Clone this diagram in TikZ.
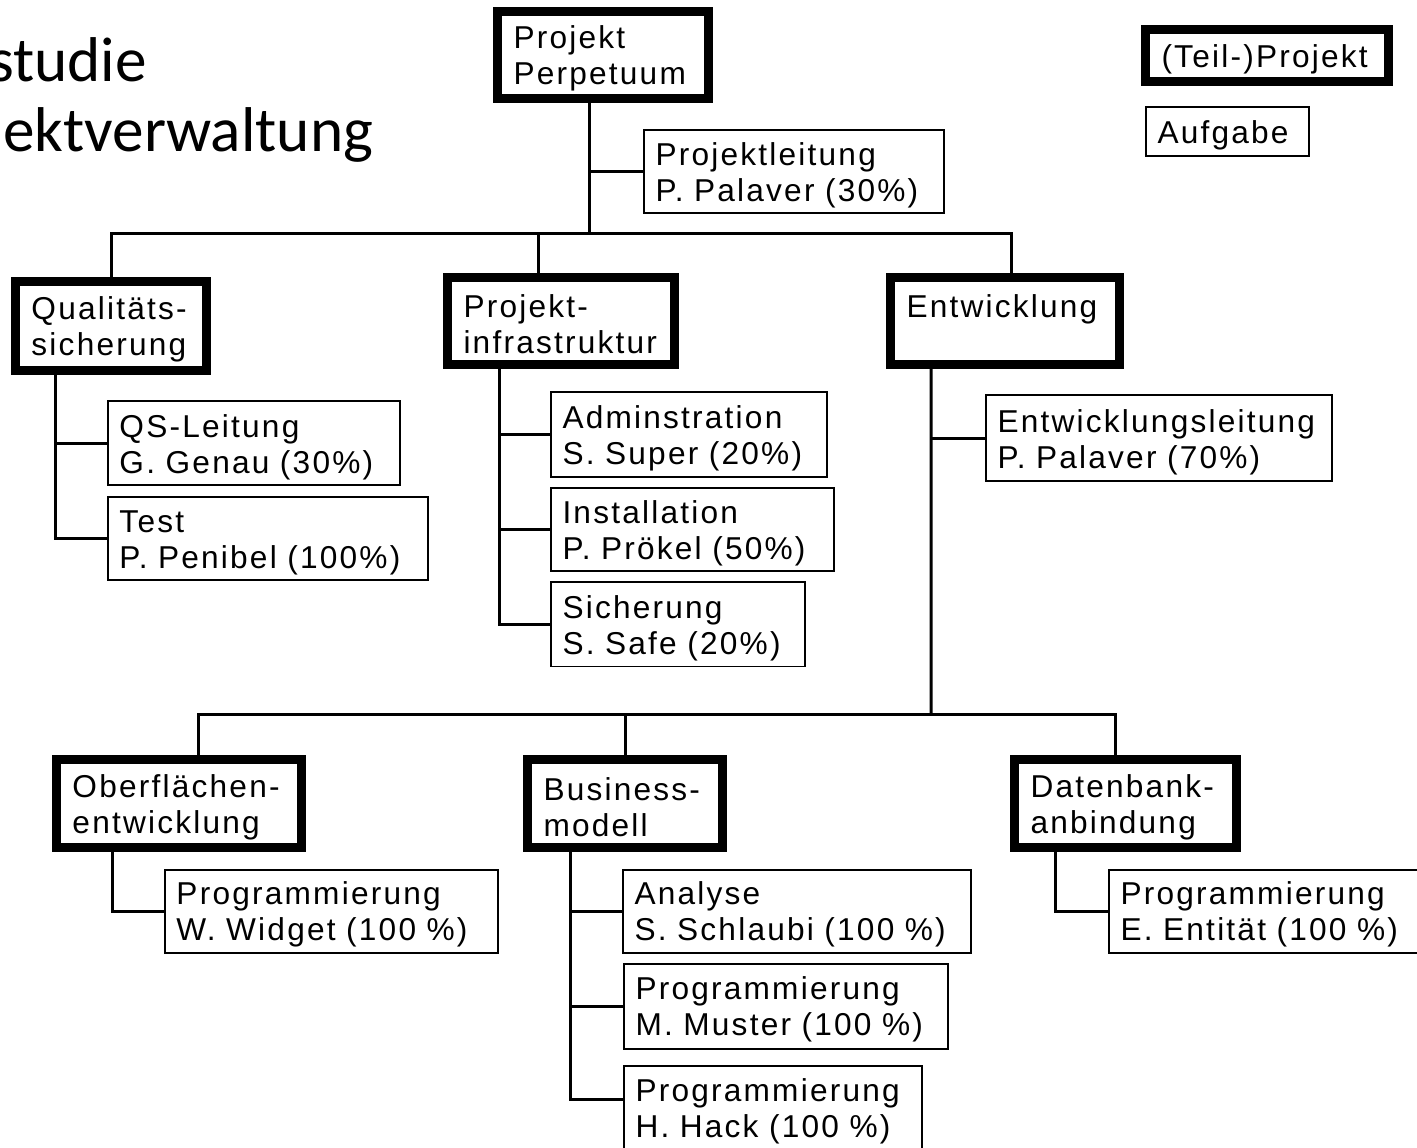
\documentclass[tikz,border=0pt]{standalone}
\usepackage{fontspec}
\setmainfont{Liberation Sans}
\newfontfamily\boxfontfam[LetterSpace=7]{Liberation Sans}
\newfontfamily\titlefontfam{Carlito}
\newcommand{\boxfont}{\boxfontfam\fontsize{18pt}{20.5pt}\selectfont\hyphenpenalty=10000\relax}
\newcommand{\titlefont}{\titlefontfam\fontsize{36pt}{40pt}\selectfont}
\usetikzlibrary{positioning,calc}
\tikzset{
    % (Teil-)Projekt: thick frame
    projbox/.style 2 args={
        draw,
        line width=0.18cm,
        minimum width=#1*0.02cm,
        minimum height=#2*0.02cm,
        text width=#1*0.02cm-0.64cm,
        inner sep=0pt,
        align=left,
        font=\boxfont,
        execute at begin node={\rule{0pt}{17pt}}
    },
    % Aufgabe: thin frame
    taskbox/.style 2 args={
        draw,
        line width=0.04cm,
        minimum width=#1*0.02cm,
        minimum height=#2*0.02cm,
        text width=#1*0.02cm-0.48cm,
        inner sep=0pt,
        align=left,
        font=\boxfont,
        execute at begin node={\rule{0pt}{17pt}}
    },
    % slide title rest
    titletext/.style={
        anchor=base west,
        inner sep=0pt,
        font=\titlefont
    },
    % connector lines
    conn/.style={
        line width=0.06cm,
        draw=black
    }
}
\begin{document}
\begin{tikzpicture}[x=0.02cm,y=-0.02cm]
    \useasboundingbox (0,0) rectangle (1417,1148);

    \node[titletext] (t1) at (-11,82) {studie};
    \node[titletext] (t2) at (3,152) {ektverwaltung};

    % top level
    \node[projbox={211}{87}] (perp) at (603,55) {Projekt\\Perpetuum};
    \node[taskbox={300}{83}] (leit) at (793.5,172) {Projektleitung\\P. Palaver (30\%)};

    % legend
    \node[projbox={243}{52}] (legproj) at (1267,55.5) {(Teil-)Projekt};
    \node[taskbox={163}{49}] (legtask) at (1227,132) {Aufgabe};

    % second level
    \node[projbox={191}{89}] (qs) at (111,326) {Qualitäts-\\sicherung};
    \node[projbox={227}{87}] (infra) at (561,321) {Projekt-\\infrastruktur};
    \node[projbox={229}{87}] (entw) at (1005,321) {Entwicklung\\\mbox{}};

    \node[taskbox={292}{84}] (qsl) at (253.5,443.5) {QS-Leitung\\G. Genau (30\%)};
    \node[taskbox={320}{83}] (test) at (267.5,539) {Test\\P. Penibel (100\%)};
    \node[taskbox={276}{85}] (admin) at (688.5,435) {Adminstration\\S. Super (20\%)};
    \node[taskbox={283}{83}] (inst) at (692,530) {Installation\\P. Prökel (50\%)};
    \node[taskbox={254}{84}] (sich) at (677.5,624.5) {Sicherung\\S. Safe (20\%)};
    \node[taskbox={346}{86}] (eleit) at (1158.5,438.5) {Entwicklungsleitung\\P. Palaver (70\%)};

    % third level
    \node[projbox={245}{88}] (ober) at (179,803.5) {Oberflächen-\\entwicklung};
    \node[projbox={195}{88}] (busi) at (625,803.5) {Business-\\modell};
    \node[projbox={222}{88}] (daten) at (1125.5,803.5) {Datenbank-\\anbindung};

    \node[taskbox={333}{83}] (prgw) at (331,911) {Programmierung\\W. Widget (100 \%)};
    \node[taskbox={348}{83}] (anal) at (796.5,911) {Analyse\\S. Schlaubi (100 \%)};
    \node[taskbox={324}{85}] (must) at (785.5,1006) {Programmierung\\M. Muster (100 \%)};
    \node[taskbox={298}{84}] (hack) at (772.5,1108) {Programmierung\\H. Hack (100 \%)};
    \node[taskbox={311}{83}] (prge) at (1264,911) {Programmierung\\E. Entität (100 \%)};

    % connectors top level
    \coordinate (top) at (589,234);
    \draw[conn] (perp.south -| top) -- (top);
    \draw[conn] (top |- leit.west) -- (leit.west);
    \draw[conn] (qs.north) |- (top) -| ([xshift=0.12cm]entw.north);
    \draw[conn] ([xshift=-0.46cm]infra.north) |- (top);

    % Qualitaetssicherung
    \coordinate (qsx) at ([xshift=-1.12cm]qs.south);
    \draw[conn] (qsx) |- (test.west);
    \draw[conn] (qsx |- qsl.west) -- (qsl.west);

    % Projektinfrastruktur
    \coordinate (infx) at ([xshift=-1.24cm]infra.south);
    \draw[conn] (infx) |- (sich.west);
    \draw[conn] (infx |- admin.west) -- (admin.west);
    \draw[conn] (infx |- inst.west) -- (inst.west);

    % Entwicklung
    \coordinate (entx) at ([xshift=-1.48cm]entw.south);
    \coordinate (mid) at (931,714);
    \draw[conn] (entx) -- (mid);
    \draw[conn] (entx |- eleit.west) -- (eleit.west);
    \draw[conn] ([xshift=0.4cm]ober.north) |- (mid) -| ([xshift=-0.21cm]daten.north);
    \draw[conn] (busi.north) -- (busi.north |- mid);

    % third level tasks
    \draw[conn] ([xshift=-1.34cm]ober.south) |- (prgw.west);
    \coordinate (busx) at ([xshift=-1.1cm]busi.south);
    \draw[conn] (busx) |- ([yshift=0.18cm]hack.west);
    \draw[conn] (busx |- anal.west) -- (anal.west);
    \draw[conn] (busx |- must.west) -- (must.west);
    \draw[conn] ([xshift=-1.41cm]daten.south) |- (prge.west);
\end{tikzpicture}
\end{document}
